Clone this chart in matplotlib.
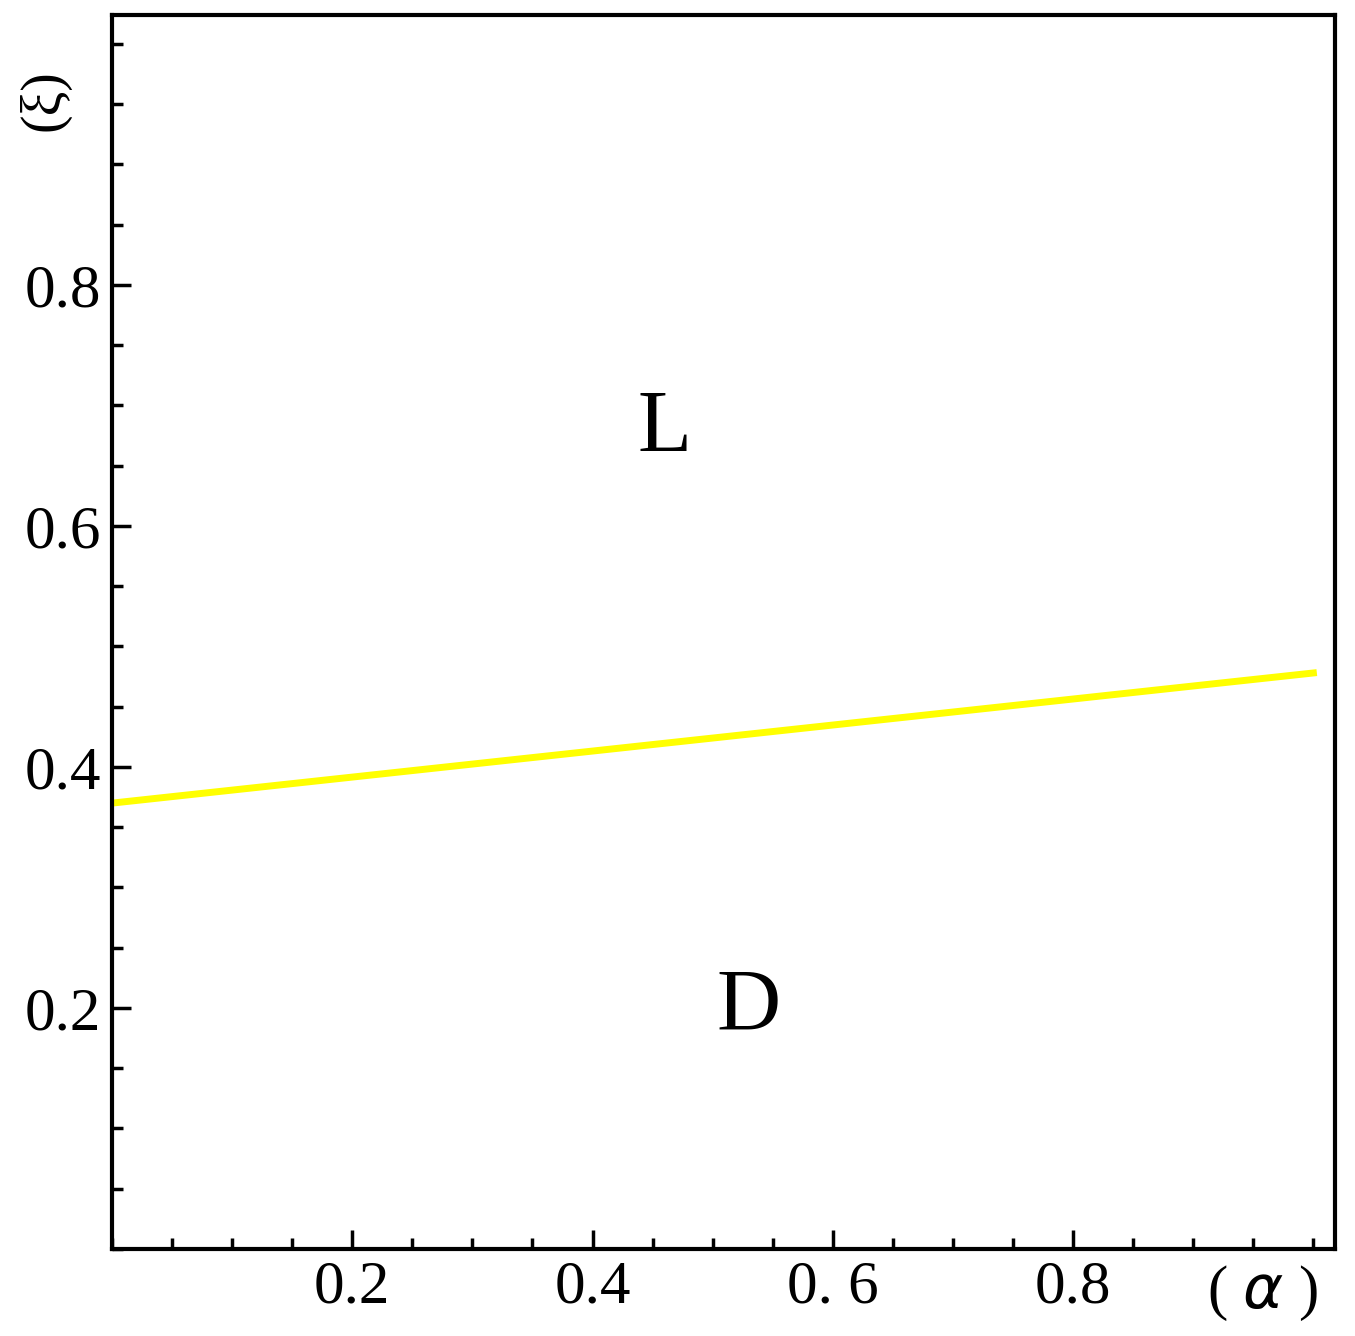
import numpy as np
import matplotlib.pyplot as plt
from matplotlib.ticker import MultipleLocator

# boundary line between regions
alpha_pts = [0.0, 1.0]
xi_pts = [0.37, 0.478]
x_ticks = [0.2, 0.4, 0.6, 0.8]
x_labels = ["0.2", "0.4", "0. 6", "0.8"]
y_ticks = [0.2, 0.4, 0.6, 0.8]
y_labels = ["0.2", "0.4", "0.6", "0.8"]

plt.rcParams['font.family'] = ['Liberation Serif', 'DejaVu Serif']

fig = plt.figure(figsize=(13.55, 13.36), dpi=100)
ax = fig.add_axes([112 / 1355, 1 - 1249 / 1336, 1223 / 1355, 1234 / 1336])
ax.plot(alpha_pts, xi_pts, color='#ffff00', lw=5)
ax.set_xlim(0, 1.018)
ax.set_ylim(0, 1.024)

ax.set_xticks(x_ticks)
ax.set_xticklabels(x_labels, fontsize=44)
ax.set_yticks(y_ticks)
ax.set_yticklabels(y_labels, fontsize=44)
ax.xaxis.set_minor_locator(MultipleLocator(0.05))
ax.yaxis.set_minor_locator(MultipleLocator(0.05))
ax.tick_params(which='major', direction='in', length=14, width=2.5, pad=8)
ax.tick_params(which='minor', direction='in', length=8, width=2.5)
for s in ax.spines.values():
    s.set_linewidth(3)

ax.text(0.46, 0.68, "L", fontsize=64, ha='center', va='center')
ax.text(0.53, 0.2, "D", fontsize=64, ha='center', va='center')
fig.text(44 / 1355, 1 - 100 / 1336, "(ξ)", fontsize=40, rotation=90, ha='center', va='center')
fig.text(1262 / 1355, 1 - 1293 / 1336, "( $\\alpha$ )", fontsize=44, ha='center', va='center')

fig.savefig("out.png", dpi=100)
